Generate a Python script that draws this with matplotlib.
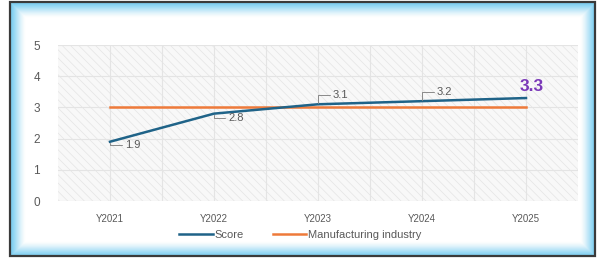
import matplotlib.pyplot as plt
from matplotlib.patches import Rectangle

plt.rcParams['font.family'] = ['Liberation Sans', 'DejaVu Sans']
plt.rcParams['hatch.linewidth'] = 0.5

years = ['Y2021', 'Y2022', 'Y2023', 'Y2024', 'Y2025']
score = [1.9, 2.8, 3.1, 3.2, 3.3]
industry = [3.0, 3.0, 3.0, 3.0, 3.0]

blue = '#1f6388'
orange = '#ee7a3a'
grey = '#595959'

fig = plt.figure(figsize=(6.01, 2.60), dpi=100)
fig.patch.set_facecolor('white')

# frame with light blue glow
W, H = 601.0, 260.0
x0, y0, x1, y1 = 10, 2, 595, 256
n = 14
for i in range(n):
    a = 0.85 * (1 - i / float(n)) ** 1.5
    fig.patches.append(Rectangle(((x0 + 1 + i) / W, 1 - (y1 - 1 - i) / H),
                                 (x1 - x0 - 2 - 2 * i) / W, (y1 - y0 - 2 - 2 * i) / H,
                                 transform=fig.transFigure, fill=False,
                                 edgecolor='#6cc8f0', alpha=a, lw=1.0, zorder=0))
fig.patches.append(Rectangle((x0 / W, 1 - y1 / H), (x1 - x0) / W, (y1 - y0) / H,
                             transform=fig.transFigure, fill=False,
                             edgecolor='#3a3a3a', lw=1.6, zorder=1))

ax = fig.add_axes([58 / W, 1 - 201 / H, 520 / W, 156 / H])
ax.set_facecolor('#f8f8f8')
x = list(range(len(years)))
ax.add_patch(Rectangle((-0.5, 0), 5, 5, facecolor='none', edgecolor='#e4e4e4',
                       hatch='\\\\\\\\', lw=0, zorder=0))

ax.set_xlim(-0.5, 4.5)
ax.set_ylim(0, 5)
ax.set_xticks(x)
ax.set_xticklabels(years)
ax.set_xticks([v + 0.5 for v in x[:-1]], minor=True)
ax.set_yticks(range(6))
ax.grid(True, which='both', color='#e4e4e4', lw=0.8, zorder=1)
ax.tick_params(axis='x', which='both', length=0, labelsize=7, colors=grey, pad=9)
ax.tick_params(axis='y', length=0, labelsize=8.5, colors=grey, pad=13)
for s in ax.spines.values():
    s.set_visible(False)

ax.plot(x, industry, color=orange, lw=1.8, label='Manufacturing industry', zorder=3)
ax.plot(x, score, color=blue, lw=1.8, label='Score', zorder=4)

offsets = [(15, -3), (14, -4), (15, 9), (15, 9)]
for i, (dx, dy) in enumerate(offsets):
    ax.annotate(f'{score[i]:.1f}', (x[i], score[i]), xytext=(dx, dy),
                textcoords='offset pixels', ha='left', va='center',
                fontsize=8, color=grey, zorder=5,
                arrowprops=dict(arrowstyle='-', color='#8a8a8a', lw=0.7,
                                shrinkA=0, shrinkB=1,
                                connectionstyle='angle,angleA=0,angleB=90,rad=0'))
ax.annotate(f'{score[-1]:.1f}', (x[-1], score[-1]), xytext=(-6, 12),
            textcoords='offset pixels', ha='left', va='center',
            fontsize=12.5, fontweight='bold', color='#7a38b8', zorder=5)

h, l = ax.get_legend_handles_labels()
fig.legend([h[1], h[0]], [l[1], l[0]], loc='center', bbox_to_anchor=(0.5, 1 - 235 / H),
           ncol=2, frameon=False, fontsize=8, labelcolor=grey,
           handlelength=3.0, handletextpad=0.2, columnspacing=2.6)

fig.savefig('out.png', dpi=100)
